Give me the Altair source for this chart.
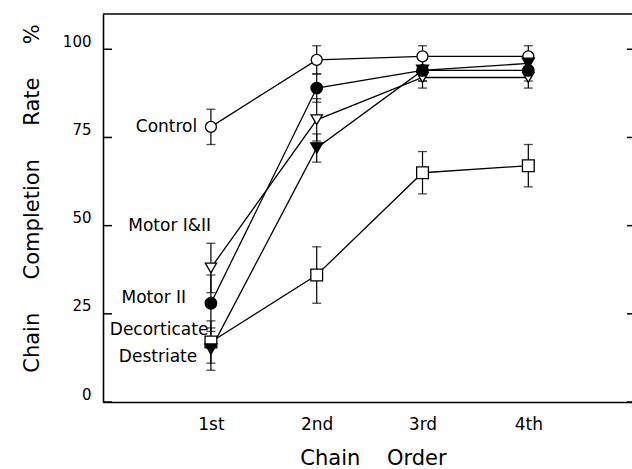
import json
import altair as alt
import pandas as pd

# ---- data ----
orders = [1, 2, 3, 4]
order_labels = ["1st", "2nd", "3rd", "4th"]
series = ["Control", "Motor I&II", "Motor II", "Decorticate", "Destriate"]

control = [78, 97, 98, 98]
control_err = [5, 4, 3, 3]
motor12 = [38, 80, 92, 92]
motor12_err = [7, 6, 3, 3]
motor2 = [28, 89, 94, 94]
motor2_err = [8, 4, 3, 3]
decort = [17, 36, 65, 67]
decort_err = [6, 8, 6, 6]
destr = [15, 72, 94, 96]
destr_err = [6, 4, 3, 3]

shapes = ["circle", "triangle-down", "circle", "square", "triangle-down"]
fills = ["white", "white", "black", "white", "black"]
sizes = [121, 144, 121, 100, 144]

# annotation anchors (data units)
label_x = [0.58, 0.61, 0.46, 0.51, 0.50]
label_y = [78, 50, 29.5, 20.4, 12.8]

y_ticks = [0, 25, 50, 75, 100]
y_max = 110

# ---- build tables ----
vals = [control, motor12, motor2, decort, destr]
errs = [control_err, motor12_err, motor2_err, decort_err, destr_err]
rows = []
for s, v, e in zip(series, vals, errs):
    for o, vv, ee in zip(orders, v, e):
        rows.append({"series": s, "order": o, "value": vv, "lo": vv - ee, "hi": vv + ee})
df = pd.DataFrame(rows)
labels_df = pd.DataFrame({"series": series, "lx": label_x, "ly": label_y})
ticks_df = pd.DataFrame({"t": y_ticks})

W, H = 529, 388
FONT = "DejaVu Sans"
NB = "\u00a0"

xs = alt.Scale(domain=[-0.02, 4.98], nice=False, zero=False)
ys = alt.Scale(domain=[0, y_max], nice=False, zero=False)

label_map = {str(o): l for o, l in zip(orders, order_labels)}
x_axis = alt.Axis(
    values=orders,
    labelExpr=f"{json.dumps(label_map)}[datum.value + ''] || ''",
    grid=False, ticks=False, tickSize=0,
    domainColor="black", domainWidth=1.6,
    labelFont=FONT, labelFontSize=17, labelColor="black",
    labelBaseline="alphabetic", labelPadding=27,
    title=f"Chain{NB*4}Order", titleFont=FONT, titleFontSize=21,
    titleFontWeight="normal", titleColor="black",
    titleX=270, titleY=62, titleAlign="center", titleBaseline="alphabetic",
)
y_axis = alt.Axis(
    values=y_ticks, grid=False, ticks=False, tickSize=0,
    domainColor="black", domainWidth=1.6,
    labelFont=FONT, labelFontSize=15, labelColor="black",
    labelPadding=12, labelOffset=-8,
    title=f"Chain{NB*5}Completion{NB*5}Rate{NB*5}%", titleFont=FONT,
    titleFontSize=21, titleFontWeight="normal", titleColor="black",
    titleX=-71, titleY=184, titleAlign="center", titleBaseline="middle",
    titleAngle=270,
)

base = alt.Chart(df)

lines = base.mark_line(color="black", strokeWidth=1.3).encode(
    x=alt.X("order:Q", scale=xs, axis=x_axis),
    y=alt.Y("value:Q", scale=ys, axis=y_axis),
    detail="series:N",
)

bars = base.mark_rule(color="black", strokeWidth=1.2).encode(
    x=alt.X("order:Q", scale=xs),
    y=alt.Y("lo:Q", scale=ys),
    y2="hi:Q",
)
cap_lo = base.mark_tick(orient="horizontal", size=9, thickness=1.3, color="black").encode(
    x=alt.X("order:Q", scale=xs), y=alt.Y("lo:Q", scale=ys))
cap_hi = base.mark_tick(orient="horizontal", size=9, thickness=1.3, color="black").encode(
    x=alt.X("order:Q", scale=xs), y=alt.Y("hi:Q", scale=ys))

points = base.mark_point(filled=True, stroke="black", strokeWidth=1.3, opacity=1).encode(
    x=alt.X("order:Q", scale=xs),
    y=alt.Y("value:Q", scale=ys),
    shape=alt.Shape("series:N", scale=alt.Scale(domain=series, range=shapes), legend=None),
    fill=alt.Fill("series:N", scale=alt.Scale(domain=series, range=fills), legend=None),
    size=alt.Size("series:N", scale=alt.Scale(domain=series, range=sizes), legend=None),
)

texts = alt.Chart(labels_df).mark_text(
    font=FONT, fontSize=17, color="black", align="center", baseline="middle"
).encode(
    x=alt.X("lx:Q", scale=xs),
    y=alt.Y("ly:Q", scale=ys),
    text="series:N",
)

left_ticks = alt.Chart(ticks_df).mark_rule(color="black", strokeWidth=1.5).encode(
    y=alt.Y("t:Q", scale=ys), x=alt.value(0), x2=alt.value(9))
right_ticks = alt.Chart(ticks_df).mark_rule(color="black", strokeWidth=1.5).encode(
    y=alt.Y("t:Q", scale=ys), x=alt.value(W - 5), x2=alt.value(W))
top_border = alt.Chart(pd.DataFrame({"t": [y_max]})).mark_rule(color="black", strokeWidth=1.6).encode(
    y=alt.Y("t:Q", scale=ys), x=alt.value(0), x2=alt.value(W))

chart = alt.layer(
    top_border, left_ticks, right_ticks, lines, bars, cap_lo, cap_hi, points, texts
).properties(
    width=W, height=H,
    autosize=alt.AutoSizeParams(type="none"),
    padding={"left": 103, "top": 14, "right": 0, "bottom": 67},
    background="white",
).configure_view(stroke=None)

chart.save("out.html", embed_options={"renderer": "svg", "actions": False})
